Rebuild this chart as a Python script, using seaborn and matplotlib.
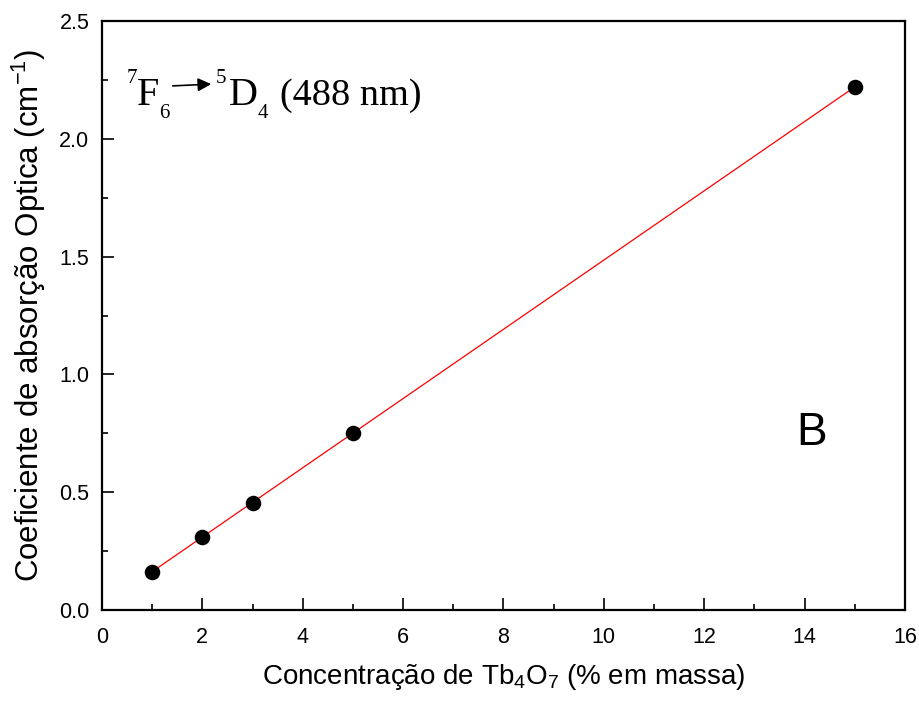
import matplotlib
matplotlib.use("Agg")
import matplotlib.pyplot as plt
import seaborn as sns
import pandas as pd
import numpy as np

# data
conc = [1, 2, 3, 5, 15]
absorb = [0.163, 0.31, 0.455, 0.752, 2.22]
xticks = [0, 2, 4, 6, 8, 10, 12, 14, 16]
yticks = [0.0, 0.5, 1.0, 1.5, 2.0, 2.5]

sns.set_theme(style="white")
plt.rcParams['font.family'] = ['Liberation Sans', 'DejaVu Sans']
plt.rcParams['text.color'] = 'black'
plt.rcParams['axes.labelcolor'] = 'black'
plt.rcParams['xtick.color'] = 'black'
plt.rcParams['ytick.color'] = 'black'
plt.rcParams['mathtext.fontset'] = 'custom'
plt.rcParams['mathtext.rm'] = 'Liberation Sans'
plt.rcParams['mathtext.it'] = 'Liberation Sans:italic'
plt.rcParams['mathtext.bf'] = 'Liberation Sans:bold'

df = pd.DataFrame({"x": conc, "y": absorb})

fig = plt.figure(figsize=(9.2, 7.01), dpi=100)
ax = fig.add_axes([102/920, 1-610/701, (905-102)/920, (610-21)/701])

sns.regplot(data=df, x="x", y="y", ax=ax, ci=None, truncate=True,
            scatter_kws=dict(s=125, color="black", edgecolor="black", linewidths=0,
                             alpha=1, zorder=3),
            line_kws=dict(color="red", linewidth=0.9, zorder=2))

ax.set_xlim(0, 16)
ax.set_ylim(0, 2.5)
ax.set_xticks(xticks)
ax.set_yticks(yticks)
ax.set_xticklabels([str(v) for v in xticks])
ax.set_yticklabels([f"{v:.1f}" for v in yticks])
ax.set_xticks(np.arange(1, 16, 2), minor=True)
ax.set_yticks(np.arange(0.25, 2.5, 0.5), minor=True)
ax.tick_params(axis='both', which='major', direction='in', length=8.5, width=1.2,
               labelsize=15.5, colors='black', bottom=True, left=True)
ax.tick_params(axis='both', which='minor', direction='in', length=4.3, width=1.2,
               colors='black', bottom=True, left=True)
ax.tick_params(axis='x', which='major', pad=12)
ax.tick_params(axis='y', which='major', pad=9)
for s in ax.spines.values():
    s.set_linewidth(1.6)
    s.set_color('black')
    s.set_visible(True)

ax.set_xlabel("Concentração de Tb$_4$O$_7$ (% em massa)", fontsize=20, labelpad=10,
              color='black')
ax.set_ylabel("Coeficiente de absorção Optica (cm$^{-1}$)", fontsize=22.5, labelpad=8,
              color='black')

ax.text(0.884, 0.30, "B", transform=ax.transAxes, fontsize=33, ha='center',
        va='center', color='black')

# transition annotation (serif), positioned in figure pixels
W, H = 920, 701
def ft(x, y, s, size):
    fig.text(x/W, 1-y/H, s, fontsize=size, family='Liberation Serif', ha='left',
             va='baseline', color='black')

ft(127, 83, "7", 15)
ft(137, 105, "F", 29)
ft(159, 118, "6", 15)
ft(216, 83, "5", 15)
ft(229, 105, "D", 29)
ft(258, 118, "4", 15)
ft(280, 105, "(488 nm)", 27.5)
fig.add_artist(matplotlib.patches.FancyArrowPatch((170/W, 1-86/H), (214/W, 1-84/H),
               transform=fig.transFigure, arrowstyle='-|>', mutation_scale=20,
               color='black', linewidth=1.2))

fig.savefig("out.png", dpi=100)
